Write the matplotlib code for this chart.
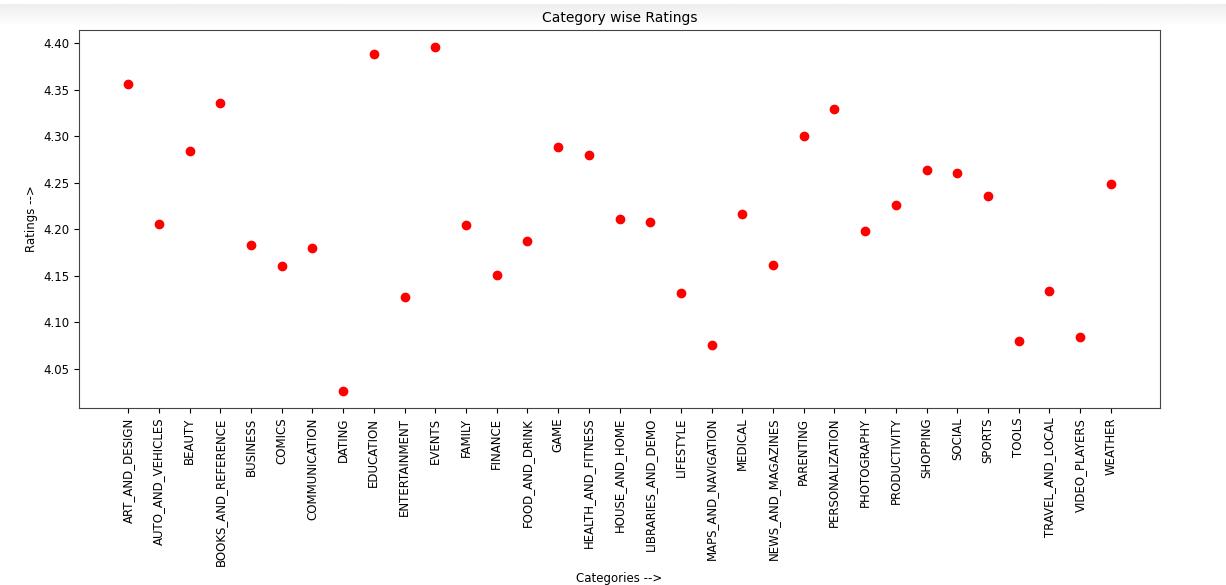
import matplotlib
matplotlib.use('Agg')
import matplotlib.pyplot as plt
import numpy as np

# Durchschnittliche Bewertung je Kategorie
categories = [
    'ART_AND_DESIGN', 'AUTO_AND_VEHICLES', 'BEAUTY', 'BOOKS_AND_REFERENCE', 'BUSINESS',
    'COMICS', 'COMMUNICATION', 'DATING', 'EDUCATION', 'ENTERTAINMENT', 'EVENTS', 'FAMILY',
    'FINANCE', 'FOOD_AND_DRINK', 'GAME', 'HEALTH_AND_FITNESS', 'HOUSE_AND_HOME',
    'LIBRARIES_AND_DEMO', 'LIFESTYLE', 'MAPS_AND_NAVIGATION', 'MEDICAL', 'NEWS_AND_MAGAZINES',
    'PARENTING', 'PERSONALIZATION', 'PHOTOGRAPHY', 'PRODUCTIVITY', 'SHOPPING', 'SOCIAL',
    'SPORTS', 'TOOLS', 'TRAVEL_AND_LOCAL', 'VIDEO_PLAYERS', 'WEATHER',
]
ratings = [
    4.356, 4.206, 4.284, 4.336, 4.183,
    4.160, 4.180, 4.026, 4.389, 4.127, 4.396, 4.205,
    4.151, 4.187, 4.288, 4.280, 4.211,
    4.208, 4.131, 4.075, 4.216, 4.162,
    4.300, 4.329, 4.198, 4.226, 4.264, 4.261,
    4.236, 4.080, 4.133, 4.084, 4.249,
]

plt.rcParams['font.family'] = ['DejaVu Sans']

fig = plt.figure(figsize=(12.26, 5.85), dpi=100)

# Notebook-Rand oben (grauer Verlauf wie im Screenshot)
band = fig.add_axes([0, 1 - 26 / 585, 1, 22 / 585])
band.imshow(np.linspace(0.93, 1.0, 40).reshape(-1, 1), aspect='auto', cmap='gray',
            vmin=0, vmax=1, extent=[0, 1, 0, 1])
band.axis('off')

ax = fig.add_axes([79 / 1226, 1 - 408 / 585, (1160 - 79) / 1226, (408 - 30) / 585])
x = np.arange(len(categories))
ax.scatter(x, ratings, color='red', s=36, zorder=3)

ax.set_xticks(x)
ax.set_xticklabels(categories, rotation=90, fontsize=8.5)
ax.tick_params(axis='y', labelsize=8.5)
ax.set_title('Category wise Ratings', fontsize=10)
ax.set_xlabel('Categories -->', fontsize=8.5)
ax.set_ylabel('Ratings -->', fontsize=8.5)
for s in ax.spines.values():
    s.set_color('#444444')

fig.savefig('out.png', dpi=100)
